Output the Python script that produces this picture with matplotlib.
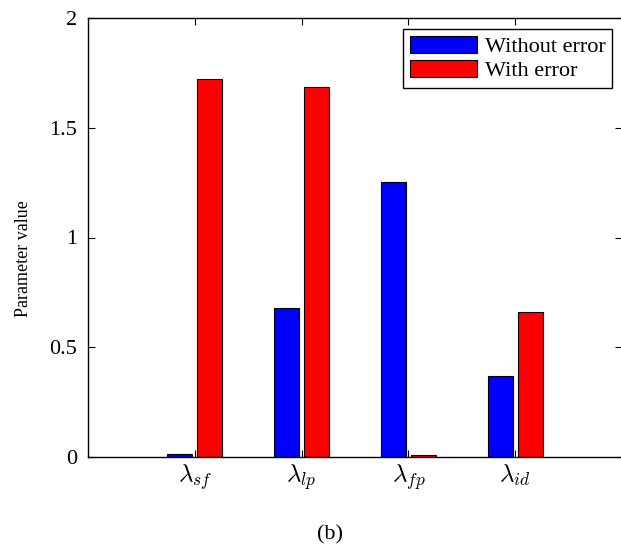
import numpy as np
import matplotlib
matplotlib.use("Agg")
import matplotlib.pyplot as plt

params = [r'$\lambda_{sf}$', r'$\lambda_{lp}$', r'$\lambda_{fp}$', r'$\lambda_{id}$']
without_error = [0.015, 0.68, 1.252, 0.368]
with_error = [1.722, 1.686, 0.01, 0.66]
yticks = [0, 0.5, 1, 1.5, 2]
ytick_labels = ['0', '0.5', '1', '1.5', '2']

plt.rcParams['font.family'] = ['Liberation Serif', 'DejaVu Serif']
plt.rcParams['mathtext.fontset'] = 'cm'

fig = plt.figure(figsize=(6.21, 5.48), dpi=100)
ax = fig.add_axes([88/621, 1 - 457/548, 534/621, 439/548])

x = np.arange(1, len(params) + 1)
w = 0.235
off = 0.14
ax.bar(x - off, without_error, w, color='#0000ff', edgecolor='black', linewidth=0.8,
       label='Without error')
ax.bar(x + off, with_error, w, color='#ff0000', edgecolor='black', linewidth=0.8,
       label='With error')

ax.set_xlim(0, 5)
ax.set_ylim(0, 2)
ax.set_xticks(x)
ax.set_xticklabels(params, fontsize=18)
ax.set_yticks(yticks)
ax.set_yticklabels(ytick_labels, fontsize=16)
ax.tick_params(direction='in', length=5, width=0.8, pad=8, top=True, right=True)
ax.tick_params(axis='x', pad=4)
for s in ax.spines.values():
    s.set_linewidth(1.0)

ax.set_ylabel('Parameter value', fontsize=13)
ax.yaxis.set_label_coords(-0.105, 0.451)

leg = ax.legend(loc='upper right', bbox_to_anchor=(612/621, 1 - 29/548),
                bbox_transform=fig.transFigure, fontsize=16, fancybox=False,
                edgecolor='black', framealpha=1, handlelength=3.0, handleheight=0.8,
                handletextpad=0.35, borderpad=0.3, labelspacing=0.15, borderaxespad=0)
leg.get_frame().set_linewidth(1.0)

fig.text(330/621, 1 - 535/548, '(b)', ha='center', va='center', fontsize=16)

fig.savefig('out.png', dpi=100)
